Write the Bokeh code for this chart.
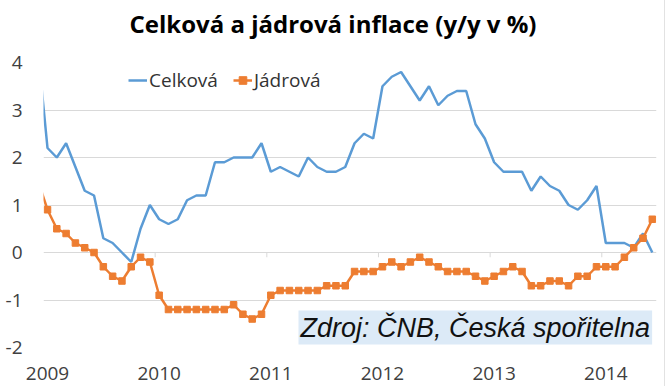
import numpy as np
from bokeh.plotting import figure
from bokeh.models import Range1d, FixedTicker, Legend, LegendItem, Label, Title
from bokeh.embed import file_html
from bokeh.resources import INLINE

# Monthly data, Dec 2008 .. Jun 2014 (index 0 = Jan 2009)
month_index = list(range(-1, 66))
celkova = [4.2,
           2.2, 2.0, 2.3, 1.8, 1.3, 1.2, 0.3, 0.2, 0.0, -0.2, 0.5, 1.0,
           0.7, 0.6, 0.7, 1.1, 1.2, 1.2, 1.9, 1.9, 2.0, 2.0, 2.0, 2.3,
           1.7, 1.8, 1.7, 1.6, 2.0, 1.8, 1.7, 1.7, 1.8, 2.3, 2.5, 2.4,
           3.5, 3.7, 3.8, 3.5, 3.2, 3.5, 3.1, 3.3, 3.4, 3.4, 2.7, 2.4,
           1.9, 1.7, 1.7, 1.7, 1.3, 1.6, 1.4, 1.3, 1.0, 0.9, 1.1, 1.4,
           0.2, 0.2, 0.2, 0.1, 0.4, 0.0]
jadrova = [1.5,
           0.9, 0.5, 0.4, 0.2, 0.1, 0.0, -0.3, -0.5, -0.6, -0.3, -0.1, -0.2,
           -0.9, -1.2, -1.2, -1.2, -1.2, -1.2, -1.2, -1.2, -1.1, -1.3, -1.4, -1.3,
           -0.9, -0.8, -0.8, -0.8, -0.8, -0.8, -0.7, -0.7, -0.7, -0.4, -0.4, -0.4,
           -0.3, -0.2, -0.3, -0.2, -0.1, -0.2, -0.3, -0.4, -0.4, -0.4, -0.5, -0.6,
           -0.5, -0.4, -0.3, -0.4, -0.7, -0.7, -0.6, -0.6, -0.7, -0.5, -0.5, -0.3,
           -0.3, -0.3, -0.1, 0.1, 0.3, 0.7]
year_labels = ["2009", "2010", "2011", "2012", "2013", "2014"]
year_ticks = [0, 12, 24, 36, 48, 60]
y_ticks = [-2, -1, 0, 1, 2, 3, 4]
y_labels = ["-2", "-1", "0", "1", "2", "3", "4"]

BLUE = "#5B9BD5"
ORANGE = "#ED7D31"
GRID = "#D9D9D9"
FONT = "Open Sans"

x_start = -0.43
p = figure(width=664, height=386, output_backend="svg", toolbar_location=None,
           x_range=Range1d(x_start, 65.45), y_range=Range1d(-2, 4),
           min_border_left=43, min_border_right=8, min_border_top=62, min_border_bottom=39)
p.outline_line_color = None
p.background_fill_color = "white"
p.styles = {"box-shadow": "1px 0px 0px 0px #E2E2E2"}

# spacer between the frame and the title (closer to the frame)
p.add_layout(Title(text=" ", text_font_size="10px", standoff=3), "above")

p.title.text = "Celková a jádrová inflace (y/y v %)"
p.title.align = "left"
p.title.offset = 86
p.title.vertical_align = "top"
p.title.standoff = 10
p.title.text_font = FONT
p.title.text_font_style = "bold"
p.title.text_font_size = "24px"
p.title.text_color = "#000000"

# grid
p.xgrid.visible = False
p.ygrid.ticker = FixedTicker(ticks=y_ticks)
p.ygrid.grid_line_color = GRID
p.ygrid.grid_line_width = 1

# y axis
p.yaxis.ticker = FixedTicker(ticks=y_ticks)
p.yaxis.major_label_overrides = {t: l for t, l in zip(y_ticks, y_labels)}
p.yaxis.axis_line_color = None
p.yaxis.major_tick_line_color = None
p.yaxis.minor_tick_line_color = None
p.yaxis.major_tick_out = 0
p.yaxis.major_tick_in = 0
p.yaxis.major_label_standoff = 21
p.yaxis.major_label_text_font = FONT
p.yaxis.major_label_text_font_size = "19px"
p.yaxis.major_label_text_color = "#404040"

# x axis
p.xaxis.ticker = FixedTicker(ticks=year_ticks)
p.xaxis.major_label_overrides = {t: l for t, l in zip(year_ticks, year_labels)}
p.xaxis.axis_line_color = None
p.xaxis.major_tick_line_color = None
p.xaxis.minor_tick_line_color = None
p.xaxis.major_tick_out = 0
p.xaxis.major_tick_in = 0
p.xaxis.major_label_standoff = 19
p.xaxis.major_label_text_font = FONT
p.xaxis.major_label_text_font_size = "19px"
p.xaxis.major_label_text_color = "#404040"

# small tick marks on the zero line at year boundaries
bounds = [x_start + t for t in year_ticks[1:]]
p.segment(x0=bounds, y0=[0] * len(bounds), x1=bounds, y1=[-0.1] * len(bounds),
          line_color=GRID, line_width=1)

r1 = p.line(month_index, celkova, line_color=BLUE, line_width=2.5)
r2 = p.line(month_index, jadrova, line_color=ORANGE, line_width=2.5)
r3 = p.scatter(month_index, jadrova, marker="square", size=6.5,
               fill_color=ORANGE, line_color=ORANGE)

legend = Legend(items=[LegendItem(label="Celková", renderers=[r1]),
                       LegendItem(label="Jádrová", renderers=[r2, r3])],
                orientation="horizontal", location=(85, 254),
                border_line_color=None, background_fill_alpha=0,
                padding=0, margin=0, spacing=15, glyph_width=19, glyph_height=20,
                label_height=20, label_standoff=2,
                label_text_font=FONT, label_text_font_size="19px",
                label_text_color="#333333")
p.add_layout(legend)

src = Label(x=255, y=3, x_units="screen", y_units="screen",
            text="Zdroj: ČNB, Česká spořitelna",
            text_font="Liberation Sans", text_font_style="italic",
            text_font_size="27px", text_color="#111111",
            text_baseline="bottom", text_align="left", padding=2,
            background_fill_color="#DCEAF7", background_fill_alpha=1.0)
p.add_layout(src)

open("out.html", "w").write(file_html(p, INLINE))
